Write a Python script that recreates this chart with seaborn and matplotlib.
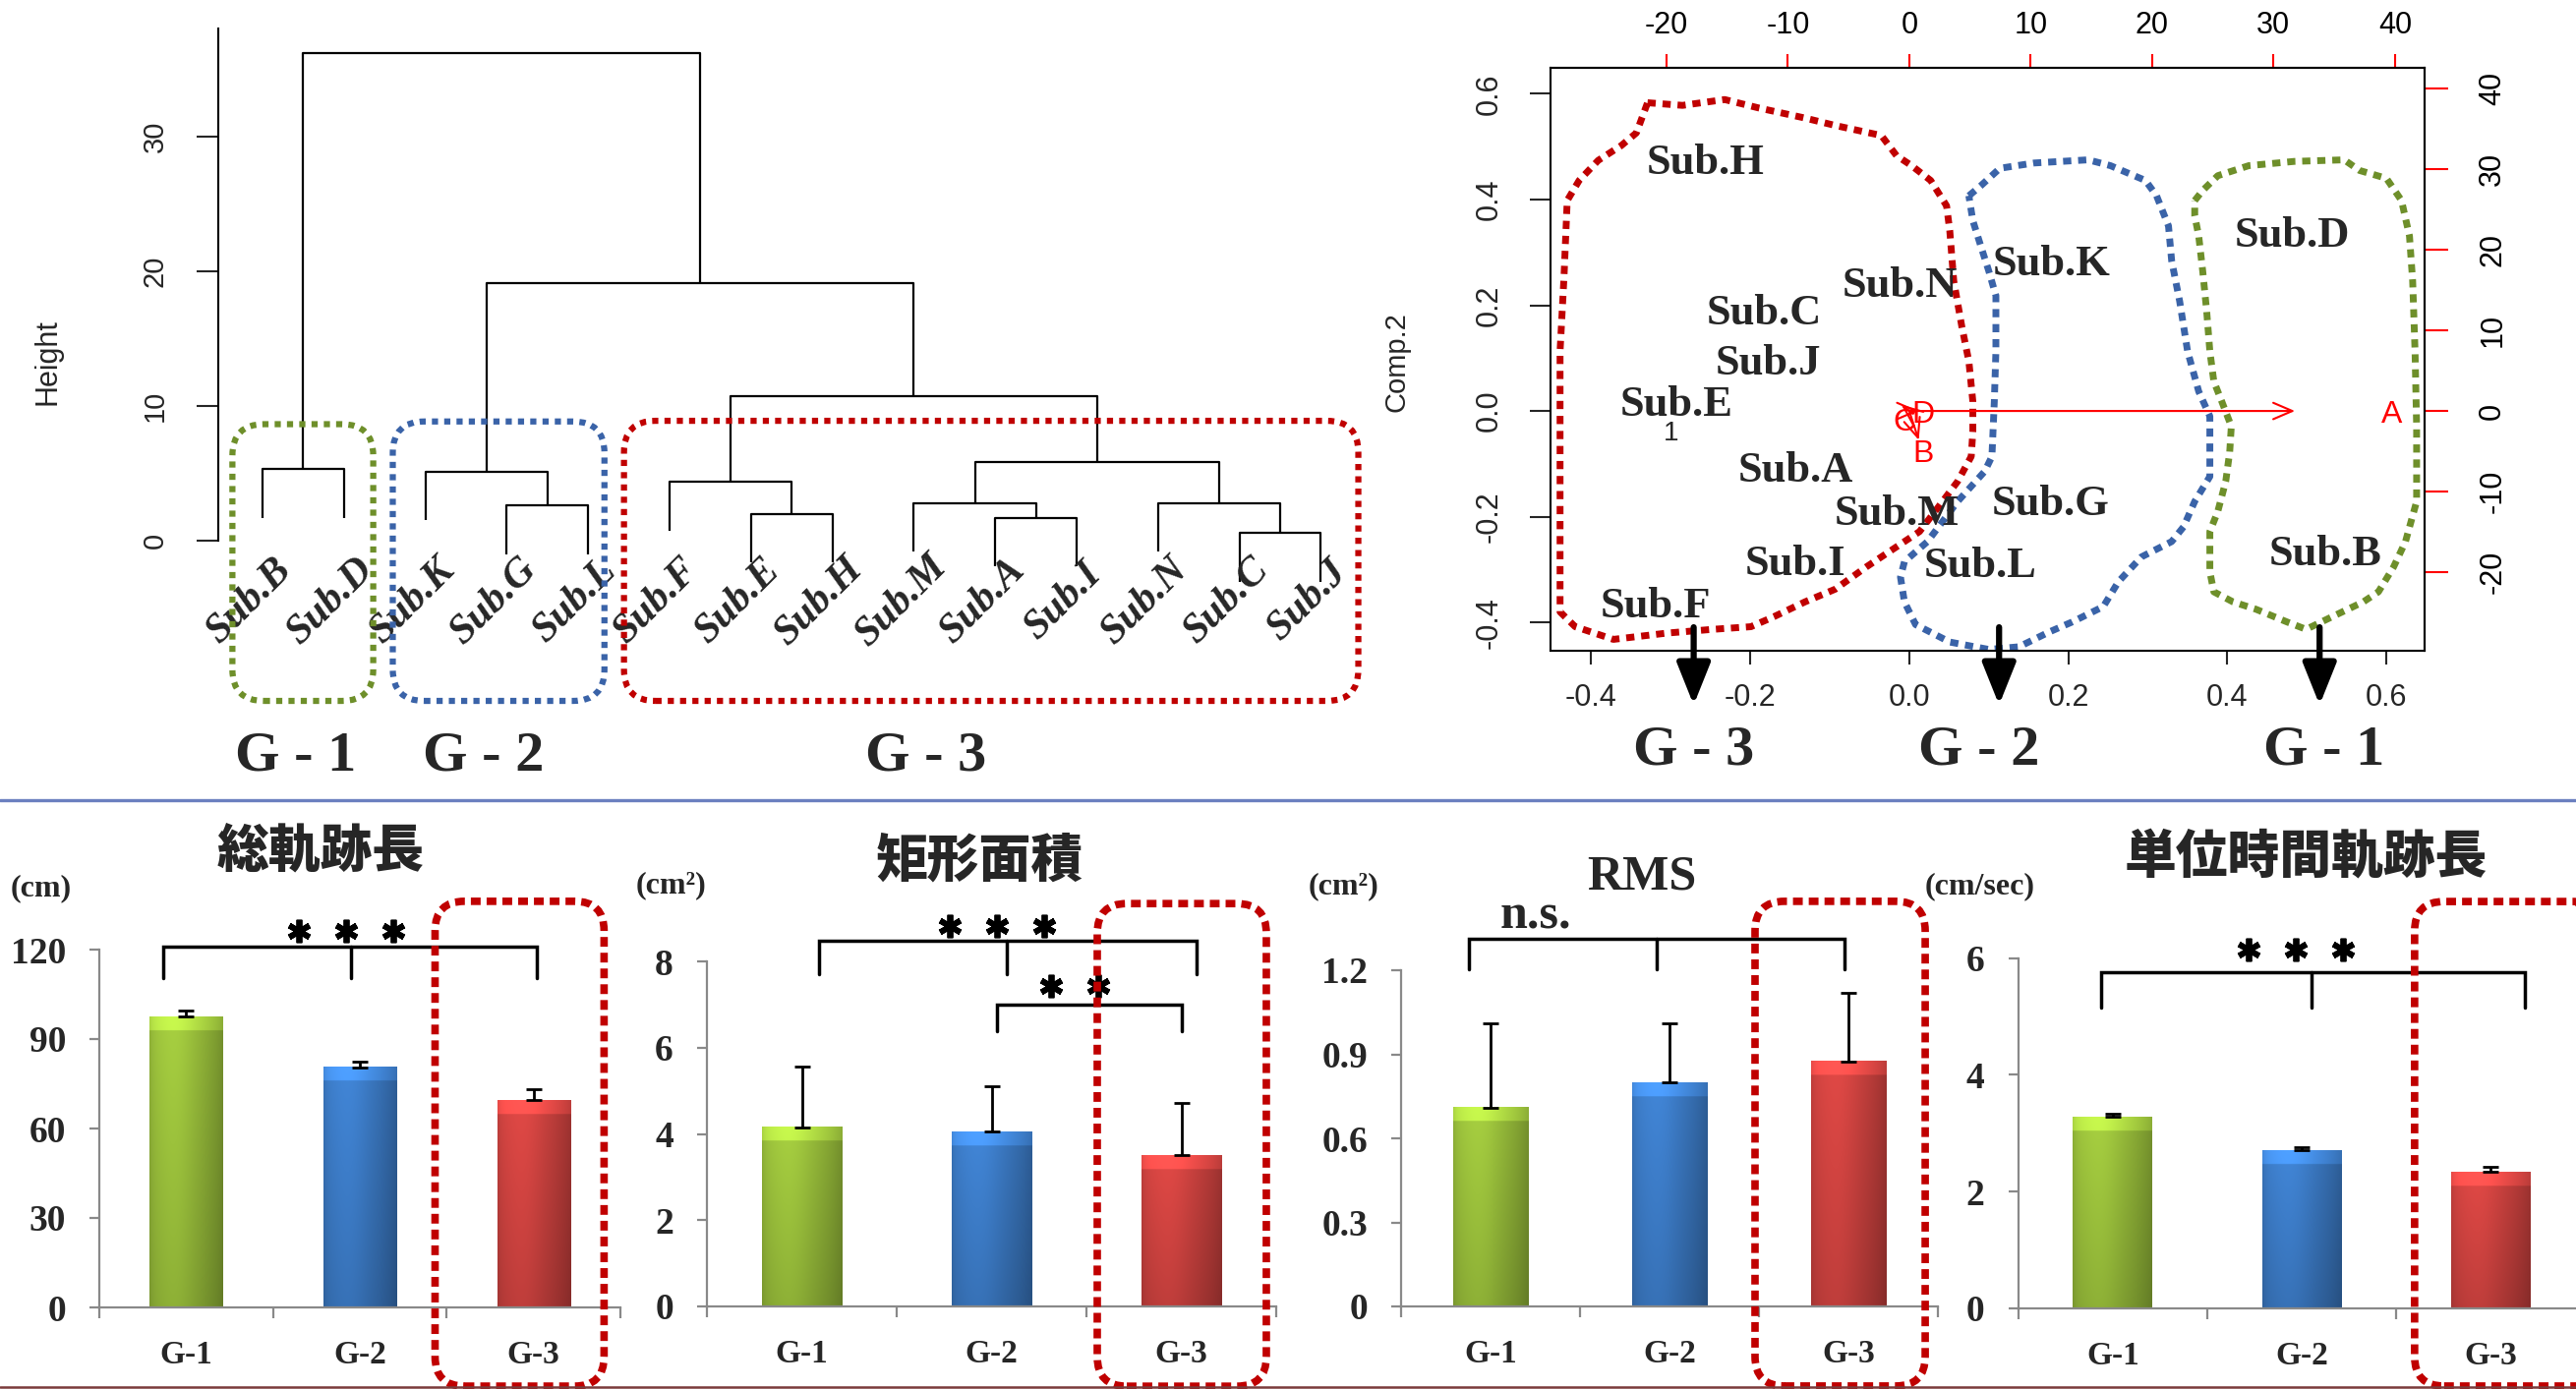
import numpy as np
import pandas as pd
import matplotlib
matplotlib.use("Agg")
import matplotlib.pyplot as plt
import matplotlib.colors as mcolors
from matplotlib.patches import FancyBboxPatch
from matplotlib.lines import Line2D
from matplotlib.transforms import IdentityTransform
import seaborn as sns

W, H = 2620, 1413

# ---------------- dendrogram (hclust) ----------------
leaf_names = ["Sub.B", "Sub.D", "Sub.K", "Sub.G", "Sub.L", "Sub.F", "Sub.E",
              "Sub.H", "Sub.M", "Sub.A", "Sub.I", "Sub.N", "Sub.C", "Sub.J"]
# merges: ids 0-13 are leaves, merge k gets id 14+k
merge_a = [12, 9, 6, 3, 8, 11, 5, 2, 0, 18, 20, 21, 22]
merge_b = [13, 10, 7, 4, 15, 14, 16, 17, 1, 19, 23, 24, 25]
merge_h = [0.55, 1.67, 2.0, 2.6, 2.8, 2.8, 4.35, 5.1, 5.3, 5.85, 10.7, 19.1, 36.2]
hang = 3.6

# ---------------- PCA biplot ----------------
score_names = ["Sub.H", "Sub.D", "Sub.K", "Sub.N", "Sub.C", "Sub.J", "Sub.E",
               "Sub.A", "Sub.M", "Sub.G", "Sub.I", "Sub.L", "Sub.B", "Sub.F"]
score_x = [-0.256, 0.481, 0.179, -0.011, -0.182, -0.177, -0.293,
           -0.143, -0.016, 0.178, -0.143, 0.090, 0.523, -0.319]
score_y = [0.469, 0.331, 0.277, 0.236, 0.184, 0.089, 0.011,
           -0.113, -0.195, -0.176, -0.290, -0.293, -0.271, -0.370]

loading_names = ["A", "B", "C", "D"]
loading_x = [0.485, 0.012, -0.010, 0.012]
loading_y = [0.0, -0.055, 0.012, 0.0]
loading_lx = [0.607, 0.017, -0.006, 0.017]
loading_ly = [-0.008, -0.082, -0.022, -0.007]

hull_g3_x = [-0.329, -0.285, -0.232, -0.189, -0.131, -0.093, -0.035, -0.016, 0.003, 0.027,
             0.047, 0.051, 0.056, 0.066, 0.075, 0.080, 0.080, 0.078, 0.061, 0.037,
             0.013, -0.016, -0.054, -0.093, -0.131, -0.170, -0.199, -0.247, -0.304, -0.372,
             -0.420, -0.439, -0.439, -0.439, -0.439, -0.434, -0.430, -0.415, -0.391, -0.362, -0.343]
hull_g3_y = [0.583, 0.578, 0.589, 0.573, 0.554, 0.540, 0.521, 0.483, 0.464, 0.436,
             0.388, 0.341, 0.246, 0.161, 0.094, 0.018, -0.039, -0.086, -0.133, -0.181,
             -0.228, -0.257, -0.295, -0.337, -0.361, -0.389, -0.408, -0.413, -0.420, -0.432,
             -0.408, -0.380, -0.266, -0.077, 0.113, 0.255, 0.398, 0.436, 0.474, 0.502, 0.526]
hull_g2_x = [0.075, 0.090, 0.114, 0.157, 0.225, 0.253, 0.297, 0.311, 0.326, 0.330,
             0.340, 0.350, 0.364, 0.378, 0.378, 0.359, 0.345, 0.330, 0.292, 0.263,
             0.244, 0.205, 0.176, 0.138, 0.100, 0.051, 0.008, -0.006, -0.011, -0.006,
             0.023, 0.061, 0.095, 0.104, 0.107, 0.109, 0.109, 0.100, 0.090, 0.080]
hull_g2_y = [0.407, 0.426, 0.459, 0.469, 0.475, 0.464, 0.436, 0.407, 0.350, 0.284,
             0.208, 0.113, 0.037, -0.010, -0.124, -0.171, -0.219, -0.247, -0.276, -0.323,
             -0.370, -0.399, -0.418, -0.446, -0.451, -0.437, -0.404, -0.361, -0.314, -0.285,
             -0.247, -0.171, -0.114, -0.086, 0.018, 0.113, 0.218, 0.265, 0.312, 0.360]
hull_g1_x = [0.359, 0.369, 0.388, 0.427, 0.484, 0.547, 0.566, 0.600, 0.619, 0.629,
             0.633, 0.636, 0.638, 0.638, 0.624, 0.609, 0.590, 0.571, 0.532, 0.499,
             0.475, 0.436, 0.407, 0.383, 0.378, 0.378, 0.388, 0.398, 0.403, 0.405,
             0.393, 0.383, 0.378, 0.374, 0.369, 0.364, 0.359]
hull_g1_y = [0.398, 0.417, 0.445, 0.464, 0.472, 0.475, 0.455, 0.440, 0.398, 0.331,
             0.246, 0.113, -0.029, -0.171, -0.247, -0.295, -0.342, -0.361, -0.389, -0.413,
             -0.399, -0.375, -0.361, -0.342, -0.304, -0.228, -0.190, -0.133, -0.077, -0.029,
             0.018, 0.056, 0.113, 0.189, 0.265, 0.331, 0.369]

# ---------------- bar charts ----------------
groups = ["G-1", "G-2", "G-3"]
bar_colors = ["#9CC23C", "#3D7DC9", "#D24441"]
total_len_mean = [97.5, 80.5, 69.5]
total_len_sd = [2.0, 2.0, 3.6]
rect_area_mean = [4.15, 4.05, 3.50]
rect_area_sd = [1.40, 1.05, 1.22]
rms_mean = [0.71, 0.80, 0.875]
rms_sd = [0.30, 0.21, 0.245]
unit_len_mean = [3.28, 2.71, 2.34]
unit_len_sd = [0.06, 0.05, 0.08]

RED, BLUE, GREEN = "#C00000", "#3A63A8", "#6E8F2A"


def fig_rect(x0, y0, x1, y1):
    return [x0 / W, 1 - y1 / H, (x1 - x0) / W, (y1 - y0) / H]


def fig_xy(px, py):
    return px / W, 1 - py / H


def round_box(fig, ax, x0, x1, y0, y1, color, lw, rad, dash=(1, 1)):
    (X0, Y0), (X1, Y1) = ax.transData.transform([(x0, y0), (x1, y1)])
    box = FancyBboxPatch((X0, Y0), X1 - X0, Y1 - Y0,
                         boxstyle=f"round,pad=0,rounding_size={rad}",
                         transform=IdentityTransform(), fill=False,
                         edgecolor=color, lw=lw, linestyle=(0, dash))
    fig.add_artist(box)


def shade_bar(ax, patch, color, bevel):
    x0, w, h = patch.get_x(), patch.get_width(), patch.get_height()
    base = np.array(mcolors.to_rgb(color))
    t = np.linspace(0, 1, 80)
    across = (1.0 + 0.08 * np.exp(-((t - 0.35) / 0.25) ** 2)
              - 0.25 * t ** 3 - 0.10 * np.exp(-t / 0.05))
    s = np.linspace(0, 1, 400)
    down = 1.0 - 0.15 * s
    shade = down[:, None] * across[None, :]
    top = s < bevel / h
    shade[top] = shade[top] * 1.2
    img = np.clip(base * shade[:, :, None], 0, 1)
    ax.imshow(img, extent=(x0, x0 + w, 0, h), aspect="auto", origin="upper",
              zorder=2, interpolation="bilinear")


sns.set_style("white")
plt.rcParams["font.family"] = ["Liberation Serif", "Noto Sans CJK JP", "DejaVu Sans"]
plt.rcParams["axes.unicode_minus"] = False

fig = plt.figure(figsize=(W / 100, H / 100), dpi=100)

# ======== dendrogram ========
axd = fig.add_axes(fig_rect(222, 20, 1400, 800))
axd.set_facecolor("none")
n_leaf = len(leaf_names)
node_x = [float(i + 1) for i in range(n_leaf)]
node_h = [None] * n_leaf
for a, b, hgt in zip(merge_a, merge_b, merge_h):
    ya = node_h[a] if a >= n_leaf else hgt - hang
    yb = node_h[b] if b >= n_leaf else hgt - hang
    axd.plot([node_x[a], node_x[a], node_x[b], node_x[b]], [ya, hgt, hgt, yb],
             color="black", lw=1.6, solid_capstyle="butt")
    node_x.append((node_x[a] + node_x[b]) / 2)
    node_h.append(hgt)
for i, name in enumerate(leaf_names):
    axd.text(i + 1 - 0.16, -4.5, name, rotation=45, ha="center", va="center",
             fontsize=30, fontweight="bold", fontstyle="italic", clip_on=False)
axd.set_xlim(0.4565, 14.683)
axd.set_ylim(-18.25, 38.69)
for sp in ["top", "right", "bottom"]:
    axd.spines[sp].set_visible(False)
axd.spines["left"].set_bounds(0, 38)
axd.spines["left"].set_linewidth(1.5)
axd.spines["left"].set_color("black")
axd.set_xticks([])
axd.set_yticks([0, 10, 20, 30], ["0", "10", "20", "30"], rotation=90, va="center",
               family="Liberation Sans", fontsize=21)
axd.tick_params(axis="y", length=16, width=1.5, pad=20, direction="out", left=True)
fig.text(*fig_xy(49, 368), "Height", rotation=90, ha="center", va="center",
         family="Liberation Sans", fontsize=22)

round_box(fig, axd, 0.63, 2.36, -11.9, 8.65, GREEN, 4.5, 32)
round_box(fig, axd, 2.60, 5.20, -11.9, 8.85, BLUE, 4.5, 32)
round_box(fig, axd, 5.44, 14.46, -11.9, 8.9, RED, 4.5, 32)
for gx, lab in zip([1.41, 3.71, 9.15], ["G - 1", "G - 2", "G - 3"]):
    axd.text(gx, -16.0, lab, ha="center", va="center", fontsize=42,
             fontweight="bold", clip_on=False)

# ======== biplot ========
axb = fig.add_axes(fig_rect(1577, 69, 2466, 662))
axb.set_facecolor("none")
for hx, hy, c in [(hull_g3_x, hull_g3_y, RED), (hull_g2_x, hull_g2_y, BLUE),
                  (hull_g1_x, hull_g1_y, GREEN)]:
    axb.plot(hx + hx[:1], hy + hy[:1], color=c, lw=5, linestyle=(0, (1.2, 1.0)),
             dash_capstyle="butt")
for name, x, y in zip(score_names, score_x, score_y):
    axb.text(x, y, name, ha="center", va="center", fontsize=32, fontweight="bold")
axb.text(-0.300, -0.043, "1", ha="center", va="center", family="Liberation Sans", fontsize=20)
for name, x, y, lx, ly in zip(loading_names, loading_x, loading_y, loading_lx, loading_ly):
    axb.annotate("", xy=(x, y), xytext=(0, 0),
                 arrowprops=dict(arrowstyle="->,head_length=0.7,head_width=0.3",
                                 color="red", lw=1.5, mutation_scale=20,
                                 shrinkA=0, shrinkB=0))
    axb.text(lx, ly, name, color="red", ha="center", va="center",
             family="Liberation Sans", fontsize=23)
axb.set_xlim(-0.451, 0.648)
axb.set_ylim(-0.4535, 0.649)
for sp in axb.spines.values():
    sp.set_color("black")
    sp.set_linewidth(1.5)
axb.set_xticks([-0.4, -0.2, 0.0, 0.2, 0.4, 0.6],
               ["-0.4", "-0.2", "0.0", "0.2", "0.4", "0.6"],
               family="Liberation Sans", fontsize=22)
axb.set_yticks([-0.4, -0.2, 0.0, 0.2, 0.4, 0.6],
               ["-0.4", "-0.2", "0.0", "0.2", "0.4", "0.6"],
               rotation=90, va="center", family="Liberation Sans", fontsize=22)
axb.tick_params(axis="x", bottom=True, length=10, width=1.5, pad=14, direction="out")
axb.tick_params(axis="y", left=True, length=15, width=1.5, pad=19, direction="out")

scale = 65.5
secx = axb.secondary_xaxis("top", functions=(lambda v: v * scale, lambda v: v / scale))
secx.set_xticks([-20, -10, 0, 10, 20, 30, 40],
                ["-20", "-10", "0", "10", "20", "30", "40"],
                family="Liberation Sans", fontsize=22)
secx.tick_params(axis="x", color="red", labelcolor="black", length=10, width=1.5, pad=10)
secx.spines["top"].set_linewidth(1.5)
secy = axb.secondary_yaxis("right", functions=(lambda v: v * scale, lambda v: v / scale))
secy.set_yticks([-20, -10, 0, 10, 20, 30, 40],
                ["-20", "-10", "0", "10", "20", "30", "40"],
                rotation=90, va="center", family="Liberation Sans", fontsize=22)
secy.tick_params(axis="y", color="red", labelcolor="black", length=17, width=1.5, pad=22)
secy.spines["right"].set_linewidth(1.5)
fig.text(*fig_xy(1420, 368), "Comp.2", rotation=90, ha="center", va="center",
         family="Liberation Sans", fontsize=21)

for gx, tx, lab in zip([-0.271, 0.113, 0.516], [-0.271, 0.088, 0.522],
                       ["G - 3", "G - 2", "G - 1"]):
    axb.annotate("", xy=(gx, -0.556), xytext=(gx, -0.409),
                 arrowprops=dict(arrowstyle="-|>,head_length=1.0,head_width=0.4",
                                 color="black", lw=4.5, mutation_scale=26,
                                 shrinkA=0, shrinkB=0),
                 annotation_clip=False)
    axb.text(tx, -0.643, lab, ha="center", va="center", fontsize=42,
             fontweight="bold", clip_on=False)

# ======== bar charts ========
panels = [
    dict(mean=total_len_mean, sd=total_len_sd, title="総軌跡長", cjk=True, unit="(cm)",
         rect=(101, 966, 631, 1330), ylim=(0, 120), ticks=[0, 30, 60, 90, 120],
         tlabels=["0", "30", "60", "90", "120"], title_xy=(326, 866), unit_xy=(42, 904),
         brackets=[(-0.13, 0.95, 2.02, 120.9, 110.4)],
         marks=[("***", 0.92, 126.4)], box=(1.433, 2.406, -26.4, 136.2)),
    dict(mean=rect_area_mean, sd=rect_area_sd, title="矩形面積", cjk=True, unit="(cm²)",
         rect=(719, 978, 1298, 1329), ylim=(0, 8), ticks=[0, 2, 4, 6, 8],
         tlabels=["0", "2", "4", "6", "8"], title_xy=(996, 876), unit_xy=(683, 901),
         brackets=[(0.09, 1.08, 2.08, 8.47, 7.70), (1.03, None, 2.0, 6.99, 6.38)],
         marks=[("***", 1.03, 8.83), ("**", 1.44, 7.44)],
         box=(1.557, 2.448, -1.85, 9.34)),
    dict(mean=rms_mean, sd=rms_sd, title="RMS", cjk=False, unit="(cm²)",
         rect=(1425, 987, 1971, 1329), ylim=(0, 1.2), ticks=[0, 0.3, 0.6, 0.9, 1.2],
         tlabels=["0", "0.3", "0.6", "0.9", "1.2"], title_xy=(1670, 892), unit_xy=(1366, 902),
         brackets=[(-0.12, 0.93, 1.98, 1.314, 1.205)],
         marks=[("n.s.", 0.25, 1.39)], box=(1.478, 2.429, -0.284, 1.446)),
    dict(mean=unit_len_mean, sd=unit_len_sd, title="単位時間軌跡長", cjk=True, unit="(cm/sec)",
         rect=(2052.6, 974.7, 2629.5, 1331), ylim=(0, 6), ticks=[0, 2, 4, 6],
         tlabels=["0", "2", "4", "6"], title_xy=(2345, 872), unit_xy=(2014, 902),
         brackets=[(-0.06, 1.05, 2.18, 5.76, 5.16)],
         marks=[("***", 0.97, 6.15)], box=(1.597, 2.6, -1.33, 6.97)),
]

for p in panels:
    ax = fig.add_axes(fig_rect(*p["rect"]))
    ax.set_facecolor("none")
    df = pd.DataFrame({"group": groups, "value": p["mean"]})
    sns.barplot(data=df, x="group", y="value", hue="group",
                palette=dict(zip(groups, bar_colors)), width=0.42, saturation=1,
                errorbar=None, legend=False, ax=ax)
    px_per_unit = (p["rect"][3] - p["rect"][1]) / (p["ylim"][1] - p["ylim"][0])
    px_per_cat = (p["rect"][2] - p["rect"][0]) / 3
    for patch, c in zip(ax.patches, bar_colors):
        shade_bar(ax, patch, c, 14 / px_per_unit)
    ax.errorbar(range(3), p["mean"], yerr=[[0, 0, 0], p["sd"]], fmt="none",
                ecolor="black", elinewidth=2, capsize=6, capthick=2, zorder=4)
    ax.set_xlim(-0.5, 2.5)
    ax.set_ylim(*p["ylim"])
    ax.set_xlabel("")
    ax.set_ylabel("")
    for sp in ["top", "right"]:
        ax.spines[sp].set_visible(False)
    for sp in ["left", "bottom"]:
        ax.spines[sp].set_color("#898989")
        ax.spines[sp].set_linewidth(1.6)
    ax.set_yticks(p["ticks"], p["tlabels"], fontsize=27, fontweight="bold")
    ax.tick_params(axis="y", left=True, length=7.5, width=1.6, color="#898989", pad=17)
    ax.set_xticks([0, 1, 2], groups, fontsize=24, fontweight="bold")
    ax.set_xticks([-0.5, 0.5, 1.5, 2.5], minor=True)
    ax.tick_params(axis="x", which="major", length=0, pad=24)
    ax.tick_params(axis="x", which="minor", bottom=True, length=8, width=1.6,
                   color="#898989", direction="out")

    for xl, xm, xr, yl, yd in p["brackets"]:
        ax.plot([xl, xl, xr, xr], [yd, yl, yl, yd], color="black", lw=2.5,
                clip_on=False, zorder=5, solid_joinstyle="miter")
        if xm is not None:
            ax.plot([xm, xm], [yl, yd], color="black", lw=2.5, clip_on=False, zorder=5)
    for txt, mx, my in p["marks"]:
        if txt == "n.s.":
            ax.text(mx, my, txt, ha="center", va="center", fontsize=36,
                    fontweight="bold", clip_on=False)
        else:
            n = len(txt)
            step = 48 / px_per_cat
            sx = [mx + (k - (n - 1) / 2) * step for k in range(n)]
            ax.plot(sx, [my] * n, linestyle="none", marker=(6, 2, 0), ms=17,
                    mew=4.2, color="black", clip_on=False, zorder=6)

    if p["cjk"]:
        fig.text(*fig_xy(*p["title_xy"]), p["title"], ha="center", va="center",
                 fontsize=38, family=["Noto Sans CJK JP"], fontweight="heavy")
    else:
        fig.text(*fig_xy(*p["title_xy"]), p["title"], ha="center", va="center",
                 fontsize=36, fontweight="bold")
    fig.text(*fig_xy(*p["unit_xy"]), p["unit"], ha="center", va="center",
             fontsize=23, fontweight="bold")
    bx0, bx1, by0, by1 = p["box"]
    round_box(fig, ax, bx0, bx1, by0, by1, RED, 5.5, 30, dash=(1.3, 0.8))

# separator lines
fig.add_artist(Line2D([0, 1], [1 - 814 / H, 1 - 814 / H], transform=fig.transFigure,
                      color="#6B80C0", lw=2.4))
fig.add_artist(Line2D([0, 1], [1 - 1411 / H, 1 - 1411 / H], transform=fig.transFigure,
                      color="#7B3B3B", lw=1.8))

fig.savefig("out.png", dpi=100)
